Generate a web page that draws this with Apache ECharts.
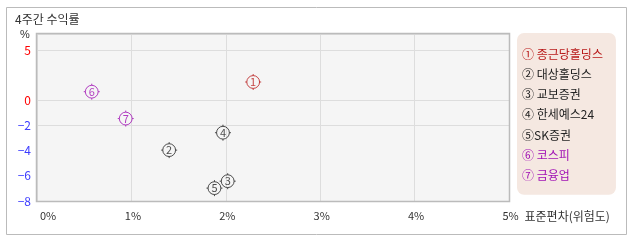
<!DOCTYPE html>
<html><head><meta charset="utf-8">
<script src="https://cdn.jsdelivr.net/npm/echarts@6/dist/echarts.min.js"></script>
<style>html,body{margin:0;padding:0;background:#fff}#c{width:638px;height:242px}</style>
</head><body><div id="c"></div>
<script>
const legendLabels = ['① 종근당홀딩스','② 대상홀딩스','③ 교보증권','④ 한세예스24','⑤SK증권','⑥ 코스피','⑦ 금융업'];
const markNums = ['1','2','3','4','5','6','7'];
const risk = [2.29, 1.40, 2.02, 1.97, 1.88, 0.58, 0.94];
const ret = [1.8, -3.97, -6.43, -2.59, -6.98, 0.83, -1.47];
const xTicks = [0, 1, 2, 3, 4, 5];
const yTicksUpper = [0, 5];
const yTicksLower = [-2, -4, -6, -8];
const seriesColors = ['#b81818','#222222','#222222','#222222','#222222','#a010b4','#a010b4'];

const FONT = "'Noto Sans CJK KR', sans-serif";
const chart = echarts.init(document.getElementById('c'), null, {renderer:'canvas'});
const ringPath = 'path://M10 0L10 2M10 18L10 20M0 10L2 10M18 10L20 10M2 10A8 8 0 1 1 18 10A8 8 0 1 1 2 10Z';

const series = legendLabels.map((name, i) => {
  const up = ret[i] >= 0;
  return {
    type: 'scatter', name: name,
    xAxisIndex: up ? 1 : 2, yAxisIndex: up ? 1 : 2,
    data: [[risk[i], ret[i]]],
    symbol: ringPath, symbolSize: 16,
    itemStyle: {color: 'rgba(0,0,0,0)', borderColor: seriesColors[i], borderWidth: 1},
    label: {show: true, position: 'inside', formatter: markNums[i], color: seriesColors[i], fontSize: 11, fontFamily: FONT},
    emphasis: {disabled: true},
    clip: false, z: 5
  };
});
series.push({
  type: 'scatter', name: 'grid-2', xAxisIndex: 2, yAxisIndex: 2, data: [], silent: true,
  markLine: {silent: true, symbol: 'none', label: {show: false},
    lineStyle: {color: '#dddddd', type: 'solid', width: 1},
    data: [{yAxis: yTicksLower[0]}]}
});

const L = 37, T = 34, W = 472, MID = 100, B = 201;
chart.setOption({
  animation: false,
  textStyle: {fontFamily: FONT},
  title: {text: '4주간 수익률', left: 15, top: 13, padding: 0,
    textStyle: {fontSize: 12, fontWeight: 'normal', color: '#333', fontFamily: FONT}},
  legend: {
    orient: 'vertical', left: 517, top: 33, icon: 'none', itemWidth: 0, itemHeight: 14, itemGap: 7.3,
    padding: [14, 13, 13, 0], backgroundColor: '#f5e8e1', borderRadius: 7,
    selectedMode: false,
    textStyle: {fontSize: 12, fontFamily: FONT},
    data: legendLabels.map((n, i) => ({name: n, textStyle: {color: seriesColors[i]}}))
  },
  grid: [
    {left: L, top: T, width: W, height: B - T, show: true, backgroundColor: '#f5f5f5', borderWidth: 0},
    {left: L, top: T, width: W, height: MID - T},
    {left: L, top: MID, width: W, height: B - MID}
  ],
  xAxis: [
    {gridIndex: 0, type: 'value', min: xTicks[0], max: xTicks[xTicks.length-1], interval: 1,
      axisLine: {show: false}, axisTick: {show: false},
      splitLine: {show: true, lineStyle: {color: '#dddddd'}},
      axisLabel: {margin: 9, color: '#333', fontSize: 11, fontFamily: FONT, alignMinLabel: 'left',
        padding: [0, 0, 0, 3],
        formatter: v => xTicks.includes(v) ? v + '%' : ''},
      name: '표준편차(위험도)', nameLocation: 'end', nameGap: 9,
      nameTextStyle: {color: '#333', fontSize: 12, fontFamily: FONT, verticalAlign: 'top', align: 'left', padding: [9, 0, 0, 0]}},
    {gridIndex: 1, type: 'value', min: 0, max: 5, show: false},
    {gridIndex: 2, type: 'value', min: 0, max: 5, show: false}
  ],
  yAxis: [
    {gridIndex: 0, type: 'value', min: 0, max: 1, show: false},
    {gridIndex: 1, type: 'value', min: 0, max: (MID - T) / 10, interval: 5,
      axisLine: {show: false}, axisTick: {show: false},
      splitLine: {show: true, lineStyle: {color: '#dddddd'}},
      axisLabel: {margin: 6, color: '#ff0000', fontSize: 12, fontFamily: FONT,
        formatter: v => yTicksUpper.includes(v) ? String(v) : ''}},
    {gridIndex: 2, type: 'value', min: -8, max: 0, interval: 2,
      axisLine: {show: false}, axisTick: {show: false},
      splitLine: {show: false},
      axisLabel: {margin: 6, color: '#3c3cff', fontSize: 12, fontFamily: FONT,
        formatter: v => yTicksLower.includes(v) ? String(v).replace('-', '\u2212') : ''}}
  ],
  graphic: [
    {type: 'rect', silent: true, z: 100, shape: {x: 6.5, y: 7.5, width: 620, height: 227},
      style: {fill: 'none', stroke: '#bbbbbb', lineWidth: 1}},
    {type: 'rect', silent: true, z: 100, shape: {x: L - 0.5, y: T - 0.5, width: W + 1, height: B - T + 1},
      style: {fill: 'none', stroke: '#bbbbbb', lineWidth: 1.5}},
    {type: 'text', silent: true, z: 100, left: 20, top: 29,
      style: {text: '%', fontSize: 11, fill: '#333', font: '11px ' + FONT}}
  ],
  series: series
});
</script></body></html>
